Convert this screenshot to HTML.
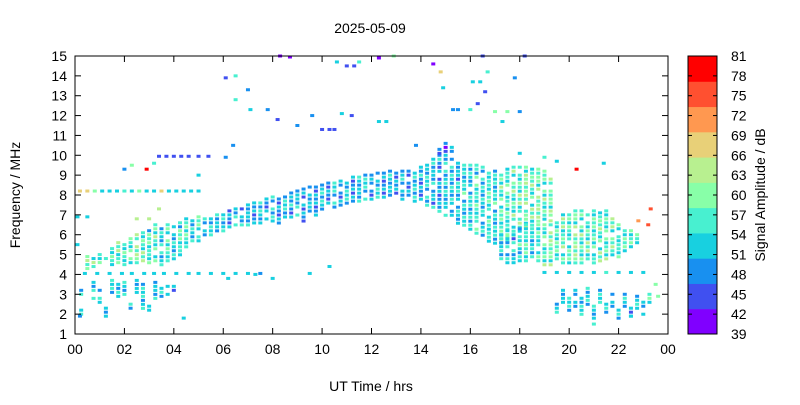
<!DOCTYPE html>
<html><head><meta charset="utf-8"><style>
body{margin:0;background:#fff;width:800px;height:400px;overflow:hidden}
svg text{font-family:"Liberation Sans",Arial,sans-serif;fill:#000}
</style></head><body>
<svg id="chart" width="800" height="400" xmlns="http://www.w3.org/2000/svg">
<text x="370" y="33" font-size="14" text-anchor="middle">2025-05-09</text>
<g id="marks"></g>
<rect x="75" y="56" width="593" height="278" fill="none" stroke="#000" stroke-width="1"/>
<g id="axes"></g>
<text x="371" y="391" font-size="14" text-anchor="middle">UT Time / hrs</text>
<text x="0" y="0" font-size="14" text-anchor="middle" transform="translate(20,195) rotate(-90)">Frequency / MHz</text>
<g id="cbar"></g>
<text x="0" y="0" font-size="14" text-anchor="middle" transform="translate(765,195) rotate(-90)">Signal Amplitude / dB</text>
</svg>
<script>
const xTicks=["00","02","04","06","08","10","12","14","16","18","20","22","00"];
const yTicks=[1,2,3,4,5,6,7,8,9,10,11,12,13,14,15];
const cbTicks=[39,42,45,48,51,54,57,60,63,66,69,72,75,78,81];
const bandColors=["#8000ff","#4050f0","#1890f0","#18d0e0","#48f0d0","#88ffa8","#b8f090","#e8d078","#ff9850","#ff5030","#ff0000"];
// column segments [hour, fLow, fHigh, dB]
const eLayer=[[0.5,4.2,4.9,60],[0.75,4.3,4.8,57],[1.0,4.3,5.0,56],[1.25,4.4,4.8,60],[1.5,4.4,5.3,57],[1.75,4.4,5.6,58],[2.0,4.4,5.5,55],[2.25,4.5,5.8,57],[2.5,4.5,6.0,60],[2.75,4.5,6.3,58],[3.0,4.5,6.2,55],[3.25,4.5,6.5,57],[3.5,4.4,6.3,54],[3.75,4.6,6.5,56],[4.0,4.7,6.4,54],[4.25,4.8,6.6,55],[4.5,5.2,6.8,56],[4.75,5.4,6.7,53],[5.0,5.6,6.9,55],[5.25,5.8,6.8,53],[5.5,5.9,7.0,53],[5.75,6.0,7.0,51]];
const fTrace=[[6.0,6.1,7.0,52],[6.25,6.2,7.2,49],[6.5,6.3,7.3,52],[6.75,6.3,7.3,50],[7.0,6.4,7.5,52],[7.25,6.4,7.6,49],[7.5,6.5,7.6,52],[7.75,6.6,7.8,50],[8.0,6.6,7.9,52],[8.25,6.5,8.0,49],[8.5,6.7,7.9,52],[8.75,6.8,8.1,50],[9.0,6.9,8.2,52],[9.25,6.5,8.3,49],[9.5,7.0,8.4,52],[9.75,6.9,8.4,50],[10.0,7.1,8.5,52],[10.25,7.2,8.6,49],[10.5,7.2,8.6,52],[10.75,7.3,8.7,50],[11.0,7.4,8.8,52],[11.25,7.5,8.9,49],[11.5,7.6,8.9,52],[11.75,7.6,9.0,53],[12.0,7.7,9.0,50],[12.25,7.7,9.1,52],[12.5,7.8,9.1,49],[12.75,7.8,9.2,52],[13.0,7.9,9.1,50],[13.25,7.7,9.2,52],[13.5,7.8,9.2,49],[13.75,7.6,9.3,52],[14.0,7.5,9.4,50],[14.25,7.4,9.5,52]];
const dayBand=[[14.5,7.2,9.8,51],[14.75,7.0,10.0,50],[15.0,6.9,10.0,52],[15.25,6.8,9.8,53],[15.5,6.5,9.6,51],[15.75,6.3,9.5,54],[16.0,6.0,9.5,52],[16.25,5.9,9.5,55],[16.5,5.8,9.4,53],[16.75,5.6,9.3,56],[17.0,5.5,9.2,54],[17.25,5.3,9.0,57],[17.5,5.5,9.3,56],[17.75,5.8,9.4,58],[18.0,6.0,9.4,58],[18.25,6.2,9.4,59],[18.5,6.4,9.3,58],[18.75,6.5,9.3,59],[19.0,6.6,9.2,57],[19.25,6.8,8.8,59],
[14.75,10.0,10.5,48],[15.0,10.0,10.6,45],[15.25,10.0,10.4,48]];
const eveningBand=[[17.25,4.6,6.0,52],[17.5,4.5,6.2,54],[17.75,4.5,6.0,51],[18.0,4.6,6.3,54],[18.25,4.6,6.5,56],[18.5,4.5,6.3,53],[18.75,4.5,6.5,56],[19.0,4.4,6.5,57],[19.25,4.4,6.7,59],[19.5,4.4,6.8,57],[19.75,4.4,7.0,58],[20.0,4.4,7.0,56],[20.25,4.4,7.2,59],[20.5,4.5,7.2,57],[20.75,4.5,7.0,58],[21.0,4.5,7.2,56],[21.25,4.6,7.1,58],[21.5,4.6,7.2,57],[21.75,4.8,6.8,58],[22.0,4.8,6.5,56],[22.25,5.0,6.4,57],[22.5,5.2,6.2,56],[22.75,5.5,6.0,55]];
const lowBand=[[0.25,1.8,2.2,52],[0.25,2.9,3.2,52],[0.75,2.6,3.6,52],[1.0,2.5,3.2,54],[1.25,1.8,2.3,52],[1.5,2.9,3.7,52],[1.75,2.8,3.5,51],[2.0,2.7,3.6,54],[2.25,1.9,2.5,52],[2.5,2.9,3.9,52],[2.75,2.2,3.5,53],[3.0,2.0,2.4,51],[3.25,2.5,3.6,52],[3.5,2.8,3.3,52],[3.75,2.9,3.4,54],[4.0,3.0,3.4,51],
[19.5,2.0,2.5,52],[19.75,2.5,3.2,52],[20.0,1.8,2.8,53],[20.25,2.2,3.2,51],[20.5,1.9,3.0,54],[20.75,2.3,3.3,52],[21.0,1.6,2.4,51],[21.25,2.5,3.2,52],[21.5,1.9,2.5,53],[21.75,2.3,3.0,52],[22.0,1.7,2.2,54],[22.25,2.2,3.0,52],[22.5,1.8,2.3,51],[22.75,2.1,2.9,54],[23.0,1.9,2.6,53],[23.25,2.5,3.2,56]];
// single cells [hour, freq, dB]
const stripe82=[[0.2,8.2,66],[0.5,8.2,69],[0.8,8.2,60],[1.1,8.2,52],[1.4,8.2,52],[1.7,8.2,52],[2.0,8.2,55],[2.3,8.2,52],[2.6,8.2,60],[2.9,8.2,52],[3.2,8.2,52],[3.5,8.2,69],[3.8,8.2,52],[4.1,8.2,52],[4.4,8.2,52],[4.7,8.2,52],[5.0,8.2,52],[0.1,6.9,52],[0.5,6.9,52],[2.5,6.8,63],[3.0,6.8,63],[3.4,7.3,63]];
const row4=[[0.4,4.05,52],[0.9,4.05,52],[1.4,4.05,52],[1.9,4.05,52],[2.3,4.05,52],[2.8,4.05,52],[3.2,4.05,52],[3.6,4.05,52],[4.1,4.05,52],[4.6,4.05,52],[5.0,4.05,52],[5.5,4.05,52],[6.0,4.05,52],[6.5,4.05,52],[7.0,4.05,52],[7.5,4.05,50],[9.5,4.05,52],[19.0,4.1,52],[19.5,4.1,52],[20.0,4.1,52],[20.5,4.1,52],[21.0,4.1,52],[21.5,4.1,56],[22.0,4.1,52],[22.5,4.1,52],[23.0,4.1,52]];
const sparse=[[3.2,9.6,57],[3.4,9.95,45],[3.7,9.95,45],[4.0,9.95,45],[4.3,9.95,45],[4.6,9.95,45],[5.0,9.95,45],[5.4,9.95,45],[2.0,9.3,50],[2.3,9.5,60],[2.9,9.3,78],[5.0,9.0,52],[6.1,9.9,48],[6.4,10.5,50],[6.1,13.9,45],[6.5,14.0,57],[7.0,13.3,50],[6.5,12.8,55],[7.1,12.3,52],[7.8,12.3,48],[8.2,11.8,45],[8.3,15.0,39],[8.7,14.95,42],[9.0,11.5,48],[9.6,12.0,50],[10.0,11.3,45],[10.3,11.3,45],[10.5,11.3,45],[10.8,12.1,52],[10.6,14.7,52],[11.0,14.5,45],[11.3,14.5,45],[11.5,14.7,55],[11.2,12.0,45],[12.3,11.7,52],[12.6,11.7,52],[13.8,10.5,48],[14.5,14.6,42],[14.8,14.2,69],[14.9,13.4,52],[15.3,12.3,50],[15.5,12.3,50],[16.0,12.3,55],[16.1,13.7,52],[16.4,13.7,52],[16.3,12.6,45],[16.6,13.2,45],[16.7,14.2,57],[17.0,12.2,60],[17.5,12.2,60],[17.3,11.7,52],[17.8,13.9,50],[18.0,12.2,50],[18.0,10.1,52],[19.0,9.9,57],[19.5,9.7,52],[20.3,9.3,78],[21.4,9.6,52],[12.9,15.0,60],[12.3,14.9,42],[18.2,15.0,45],[16.5,15.0,45],[10.3,4.4,52],[7.3,4.0,52],[6.2,3.8,52],[8.0,3.8,52],[4.4,1.8,52],[22.8,6.7,72],[23.3,7.3,75],[23.2,6.5,75],[23.5,3.5,60],[23.6,2.9,60],[22.5,1.9,52],[21.0,1.5,57],[0.1,5.5,52],[0.2,1.9,48]];

const NS="http://www.w3.org/2000/svg";
const X0=75,X1=668,Y0=334,Y1=56;
const xs=h=>X0+h/24*(X1-X0);
const ys=f=>Y0-(f-1)/14*(Y0-Y1);
const col=db=>bandColors[Math.max(0,Math.min(10,Math.floor((db-39)/(42/11))))];
const texture=[0,4,-4,0,3,-3,5,0,-4,2,0,-5,4];
function mk(tag,attrs,parent){const e=document.createElementNS(NS,tag);for(const k in attrs)e.setAttribute(k,attrs[k]);parent.appendChild(e);return e;}
const marks=document.getElementById('marks');
[eLayer,fTrace,dayBand,eveningBand,lowBand].forEach(arr=>arr.forEach((d,ci)=>{
  const top=ys(d[2]),bot=ys(d[1]);
  let k=0;
  for(let y=top-1.5;y<=bot-1.5+0.01;y+=4){
    const skip=((k*7+ci*3)%11)===5;
    if(!skip){
      const r=mk('rect',{x:xs(d[0])-2,y:y,width:4,height:3,fill:col(d[3]+texture[(k+ci*5)%texture.length])},marks);
      
      
    }
    k++;
  }
}));
[stripe82,row4,sparse].forEach(arr=>arr.forEach(d=>{
  const r=mk('rect',{x:xs(d[0])-2,y:ys(d[1])-1.5,width:4,height:3,fill:col(d[2])},marks);
  
  
}));
const axes=document.getElementById('axes');
xTicks.forEach((t,i)=>{
  const x=xs(i*2);
  mk('line',{x1:x,x2:x,y1:Y0,y2:Y0-6,stroke:'#000'},axes);
  mk('line',{x1:x,x2:x,y1:Y1,y2:Y1+6,stroke:'#000'},axes);
  const tx=mk('text',{x:x,y:Y0+20,'font-size':14,'text-anchor':'middle'},axes);
  tx.textContent=t;
  
  
});
yTicks.forEach(t=>{
  const y=ys(t);
  mk('line',{x1:X0,x2:X0+6,y1:y,y2:y,stroke:'#000'},axes);
  mk('line',{x1:X1,x2:X1-6,y1:y,y2:y,stroke:'#000'},axes);
  const tx=mk('text',{x:X0-8,y:y+5,'font-size':14,'text-anchor':'end'},axes);
  tx.textContent=t;
  
  
});
const cb=document.getElementById('cbar');
const CX=688,CW=29,bh=(Y0-Y1)/11;
bandColors.forEach((c,i)=>{
  const r=mk('rect',{x:CX,y:Y0-(i+1)*bh,width:CW,height:bh+0.5,fill:c},cb);
  
  
});
mk('rect',{x:CX,y:Y1,width:CW,height:Y0-Y1,fill:'none',stroke:'#000'},cb);
cbTicks.forEach(t=>{
  const y=Y0-(t-39)/42*(Y0-Y1);
  mk('line',{x1:CX,x2:CX+4,y1:y,y2:y,stroke:'#000'},cb);
  mk('line',{x1:CX+CW,x2:CX+CW-4,y1:y,y2:y,stroke:'#000'},cb);
  const tx=mk('text',{x:731,y:y+5,'font-size':14},cb);
  tx.textContent=t;
  
  
});
</script>
</body></html>
